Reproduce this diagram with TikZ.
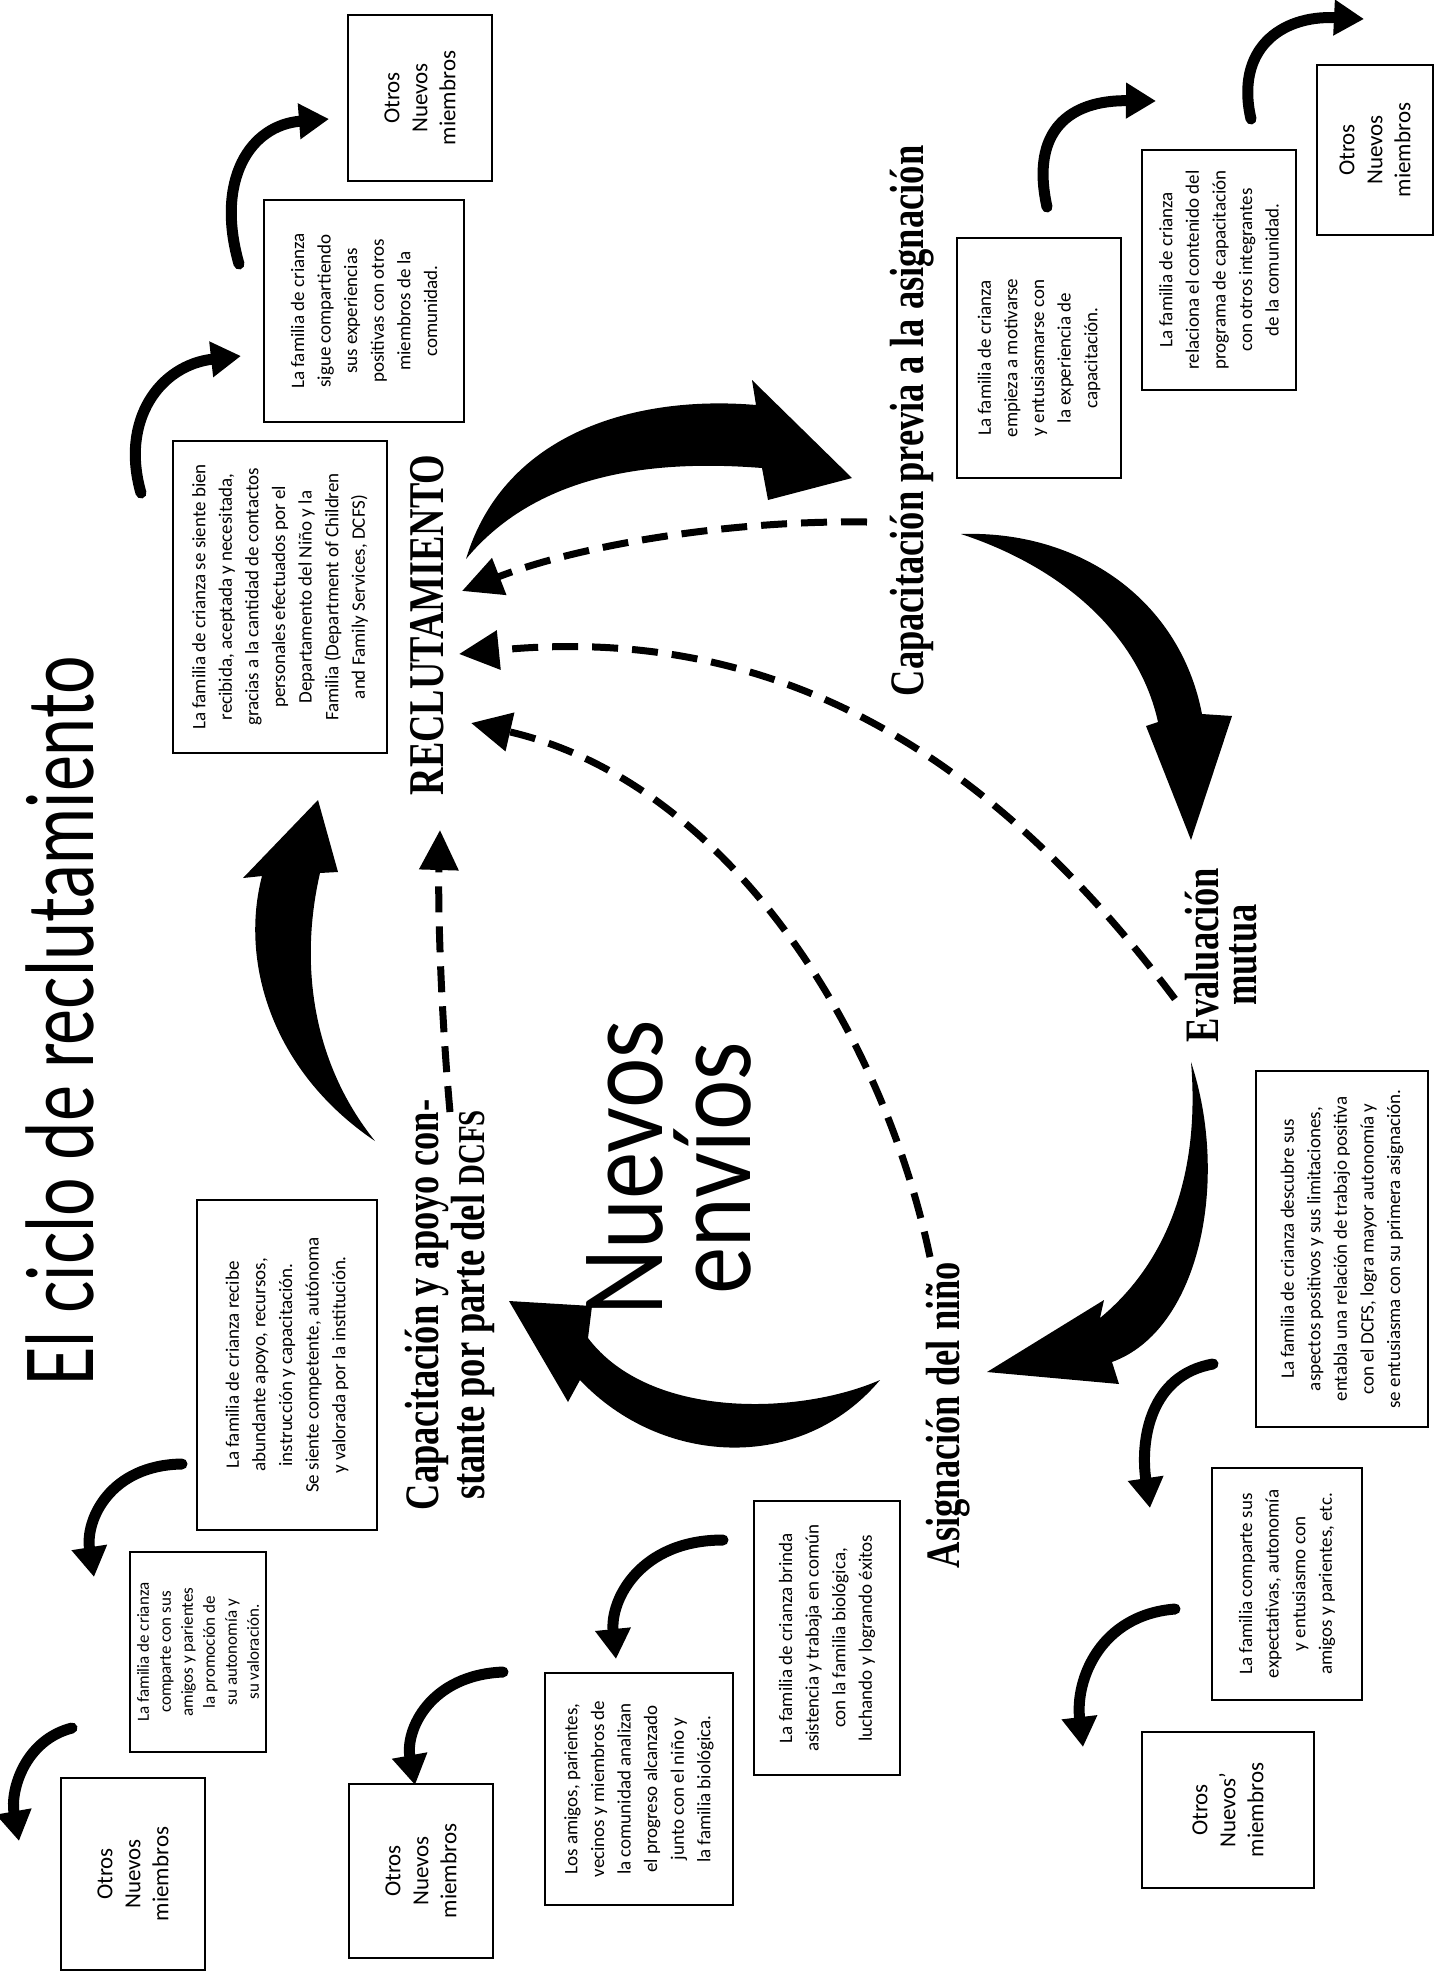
\documentclass[tikz,border=0pt]{standalone}
\usepackage{fontspec}
\setmainfont{Carlito}
\newfontfamily\stagefont{Liberation Serif}[FakeStretch=0.76]
\newfontfamily\titlefont{Lato}[FakeStretch=0.74]
\newfontfamily\envfont{Lato}[FakeStretch=0.84]
\usepackage{tikz}
\usetikzlibrary{arrows.meta}

\begin{document}
\begin{tikzpicture}[x=0.5pt,y=0.5pt,yscale=-1,xscale=1,
  txtbox/.style={draw,line width=1.3pt,rotate=90,align=center,inner sep=1pt,font=\fontsize{9.5}{13.3}\selectfont},
  othersbox/.style={txtbox,font=\fontsize{11.5}{14}\selectfont},
  stage/.style={rotate=90,align=center,font=\stagefont\bfseries\fontsize{24}{19}\selectfont},
  bigarrow/.style={fill=black},
  backarrow/.style={line width=3.5pt,dash pattern=on 13pt off 7pt,-{Triangle[length=20pt,width=19pt]}},
  hookarrow/.style={line width=5.5pt,line cap=round,-{Triangle[length=15pt,width=17pt]}}]
\useasboundingbox (0,0) rectangle (1434,1971);

% Text Node
\node[rotate=90,font=\titlefont\fontsize{46}{50}\selectfont] (title) at (60,1021) {El ciclo de reclutamiento};
% Text Node
\node[rotate=90,align=center,font=\envfont\fontsize{53}{44}\selectfont] (envios) at (669,1168) {Nuevos\\envíos};

% Stages
\node[stage,font=\stagefont\bfseries\fontsize{25}{19}\selectfont] (rec) at (427,625) {RECLUTAMIENTO};
\node[stage] (capprev) at (912,421) {Capacitación previa a la asignación};
\node[stage] (evalmut) at (1221,955) {Evaluación\\mutua};
\node[stage] (asign) at (948,1415) {Asignación del niño};
\node[stage] (capapoyo) at (450,1305) {Capacitación y apoyo con-\\stante por parte del {\fontsize{19}{19}\selectfont DCFS}};

% Boxes
\node[txtbox,minimum width=156pt,minimum height=107pt] (famrec) at (280,597) {La familia de crianza se siente bien\\recibida, aceptada y necesitada,\\gracias a la cantidad de contactos\\personales efectuados por el\\Departamento del Niño y la\\Familia (Department of Children\\and Family Services, DCFS)};
\node[txtbox,minimum width=111pt,minimum height=100pt] (famsigue) at (364,311) {La familia de crianza\\sigue compartiendo\\sus experiencias\\positivas con otros\\miembros de la\\comunidad.};
\node[othersbox,minimum width=83pt,minimum height=72pt] (otrosa) at (420,98) {Otros\\Nuevos\\miembros};
\node[txtbox,minimum width=120pt,minimum height=82pt] (fammotiv) at (1039,358) {La familia de crianza\\empieza a motivarse\\y entusiasmarse con\\la experiencia de\\capacitación.};
\node[txtbox,minimum width=120pt,minimum height=77pt] (famrelac) at (1219,270) {La familia de crianza\\relaciona el contenido del\\programa de capacitación\\con otros integrantes\\de la comunidad.};
\node[othersbox,minimum width=85pt,minimum height=58pt] (otrosb) at (1375,150) {Otros\\Nuevos\\miembros};
\node[txtbox,minimum width=178pt,minimum height=86pt] (famdescub) at (1342,1249) {La familia de crianza descubre sus\\aspectos positivos y sus limitaciones,\\entabla una relación de trabajo positiva\\con el DCFS, logra mayor autonomía y\\se entusiasma con su primera asignación.};
\node[txtbox,minimum width=116pt,minimum height=75pt] (famcomp) at (1287,1584) {La familia comparte sus\\expectativas, autonomía\\y entusiasmo con\\amigos y parientes, etc.};
\node[othersbox,minimum width=78pt,minimum height=86pt] (otrosc) at (1228,1810) {Otros\\Nuevos’\\miembros};
\node[txtbox,minimum width=137pt,minimum height=73pt] (fambrinda) at (827,1638) {La familia de crianza brinda\\asistencia y trabaja en común\\con la familia biológica,\\luchando y logrando éxitos};
\node[txtbox,minimum width=116pt,minimum height=94pt] (amigos) at (639,1789) {Los amigos, parientes,\\vecinos y miembros de\\la comunidad analizan\\el progreso alcanzado\\junto con el niño y\\la familia biológica.};
\node[othersbox,minimum width=87pt,minimum height=72pt] (otrosd) at (421,1871) {Otros\\Nuevos\\miembros};
\node[txtbox,minimum width=165pt,minimum height=90pt] (famrecibe) at (287,1365) {La familia de crianza recibe\\abundante apoyo, recursos,\\instrucción y capacitación.\\Se siente competente, autónoma\\y valorada por la institución.};
\node[txtbox,minimum width=100pt,minimum height=68pt,font=\fontsize{8.5}{11}\selectfont] (famcomparte) at (198,1652) {La familia de crianza\\comparte con sus\\amigos y parientes\\la promoción de\\su autonomía y\\su valoración.};
\node[othersbox,minimum width=96pt,minimum height=72pt] (otrose) at (133,1874) {Otros\\Nuevos\\miembros};

%Shape: Curved arrows of the cycle
\fill[bigarrow] (466,559) .. controls (505,430) and (640,395) .. (756,405) -- (752,380) -- (852,478) -- (768,500) -- (762,468) .. controls (660,460) and (540,470) .. (466,559) -- cycle;
\fill[bigarrow] (961,534) .. controls (1080,530) and (1180,600) .. (1202,714) -- (1232,716) -- (1191,840) -- (1146,726) -- (1158,722) .. controls (1140,640) and (1070,570) .. (961,534) -- cycle;
\fill[bigarrow] (1191,1062) .. controls (1230,1180) and (1200,1330) .. (1112,1362) -- (1119,1384) -- (987,1372) -- (1104,1300) -- (1100,1318) .. controls (1170,1260) and (1200,1170) .. (1191,1062) -- cycle;
\fill[bigarrow] (880,1380) .. controls (800,1475) and (660,1465) .. (580,1380) -- (568,1402) -- (509,1301) -- (592,1306) -- (588,1338) .. controls (650,1420) and (800,1415) .. (880,1380) -- cycle;
\fill[bigarrow] (375,1141) .. controls (270,1070) and (240,960) .. (262,876) -- (243,878) -- (318,800) -- (338,872) -- (320,873) .. controls (300,960) and (310,1060) .. (375,1141) -- cycle;

% Dashed returns to recruitment
\coordinate (d1a) at (867,522); \coordinate (d1b) at (462,591);
\coordinate (d2a) at (1175,999); \coordinate (d2b) at (459,654);
\coordinate (d3a) at (930,1257); \coordinate (d3b) at (471,723);
\coordinate (d4a) at (450,1112); \coordinate (d4b) at (440,830);
\draw[backarrow] (d1a) .. controls (730,520) and (580,545) .. (d1b);
\draw[backarrow] (d2a) .. controls (1010,780) and (800,620) .. (d2b);
\draw[backarrow] (d3a) .. controls (880,1020) and (720,780) .. (d3b);
\draw[backarrow] (d4a) .. controls (440,1000) and (438,900) .. (d4b);

% Small hooks between boxes
\coordinate (h1a) at (141,493); \coordinate (h1b) at (241,356);
\coordinate (h2a) at (239,264); \coordinate (h2b) at (329,119);
\coordinate (h3a) at (1047,207); \coordinate (h3b) at (1156,101);
\coordinate (h4a) at (1251,119); \coordinate (h4b) at (1364,19);
\coordinate (h5a) at (1213,1364); \coordinate (h5b) at (1150,1508);
\coordinate (h6a) at (1175,1609); \coordinate (h6b) at (1083,1747);
\coordinate (h7a) at (723,1540); \coordinate (h7b) at (616,1659);
\coordinate (h8a) at (503,1672); \coordinate (h8b) at (415,1785);
\coordinate (h9a) at (182,1464); \coordinate (h9b) at (94,1577);
\coordinate (h10a) at (72,1728); \coordinate (h10b) at (19,1841);
\draw[hookarrow] (h1a) .. controls (120,420) and (160,365) .. (h1b);
\draw[hookarrow] (h2a) .. controls (215,180) and (250,125) .. (h2b);
\draw[hookarrow] (h3a) .. controls (1030,130) and (1070,100) .. (h3b);
\draw[hookarrow] (h4a) .. controls (1235,50) and (1280,15) .. (h4b);
\draw[hookarrow] (h5a) .. controls (1150,1375) and (1140,1440) .. (h5b);
\draw[hookarrow] (h6a) .. controls (1100,1615) and (1075,1680) .. (h6b);
\draw[hookarrow] (h7a) .. controls (640,1540) and (610,1600) .. (h7b);
\draw[hookarrow] (h8a) .. controls (430,1675) and (405,1730) .. (h8b);
\draw[hookarrow] (h9a) .. controls (110,1465) and (85,1520) .. (h9b);
\draw[hookarrow] (h10a) .. controls (25,1740) and (10,1790) .. (h10b);

\end{tikzpicture}
\end{document}
